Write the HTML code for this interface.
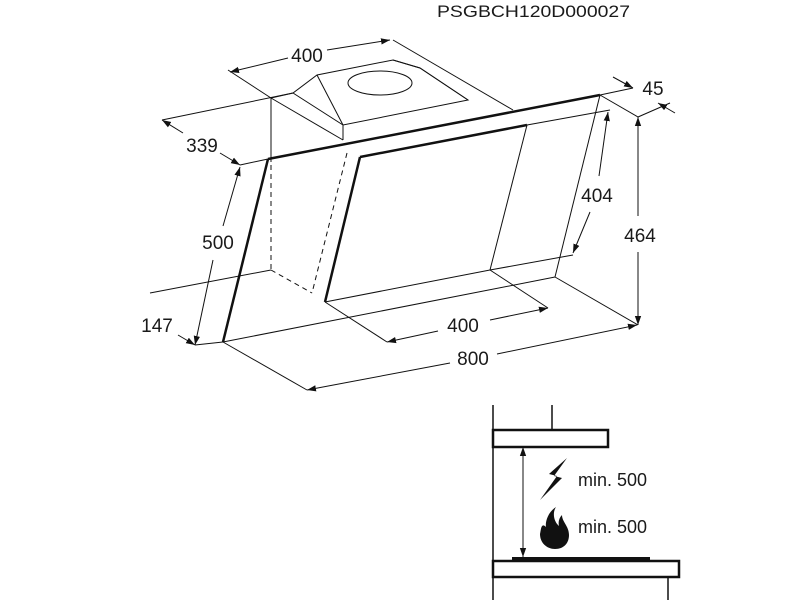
<!DOCTYPE html>
<html><head><style>
html,body{margin:0;padding:0;background:#fff;}
svg{display:block;}
text{font-family:"Liberation Sans",sans-serif;fill:#1a1a1a;}
</style></head><body>
<svg width="800" height="600" viewBox="0 0 800 600" xmlns="http://www.w3.org/2000/svg">
<defs>
<marker id="a" viewBox="0 0 10 10" refX="10" refY="5" markerWidth="9" markerHeight="9" orient="auto-start-reverse" markerUnits="userSpaceOnUse">
<path d="M0,1.5 L10,5 L0,8.5 z" fill="#111"/></marker>
</defs>
<text x="437" y="17" font-size="17" textLength="193" lengthAdjust="spacingAndGlyphs">PSGBCH120D000027</text>

<g stroke="#111" fill="none" stroke-width="1">
<line x1="271" y1="98" x2="271" y2="162"/>
<polygon points="271,98 293,93 317,75 393,60 420,68 468,100 343,125 293,93" fill="#fff"/>
<polyline points="317,75 343,125"/>
<polyline points="393,60 420,68"/>
<polyline points="420,68 468,100"/>
<line x1="271" y1="98" x2="343" y2="140"/>
<line x1="343" y1="125" x2="343" y2="140"/>
<ellipse cx="380" cy="83" rx="32" ry="12"/>
<g stroke-dasharray="5,4">
<line x1="271" y1="165" x2="271" y2="270"/>
<line x1="271" y1="270" x2="312" y2="293"/>
<line x1="347" y1="153" x2="312" y2="293"/>
</g>
<line x1="268" y1="159" x2="600" y2="95" stroke-width="2.5"/>
<line x1="268" y1="159" x2="223" y2="342" stroke-width="2.5"/>
<line x1="223" y1="342" x2="555" y2="277"/>
<line x1="600" y1="95" x2="555" y2="277"/>
<line x1="600" y1="95" x2="638" y2="117"/>
<line x1="555" y1="277" x2="638" y2="325"/>
<line x1="360" y1="157" x2="527" y2="125" stroke-width="2.5"/>
<line x1="360" y1="157" x2="325" y2="302" stroke-width="2.5"/>
<line x1="325" y1="302" x2="490" y2="270"/>
<line x1="527" y1="125" x2="490" y2="270"/>
<line x1="228" y1="70" x2="271" y2="98"/>
<line x1="393" y1="40" x2="513" y2="110"/>
<line x1="162" y1="120" x2="293" y2="93"/>
<line x1="240" y1="165" x2="268" y2="159"/>
<line x1="150" y1="293" x2="271" y2="270"/>
<line x1="195" y1="345" x2="223" y2="342"/>
<line x1="223" y1="342" x2="307" y2="390"/>
<line x1="325" y1="302" x2="387" y2="342"/>
<line x1="490" y1="270" x2="548" y2="308"/>
<line x1="490" y1="270" x2="573" y2="255"/>
<line x1="527" y1="125" x2="610" y2="110"/>
<line x1="600" y1="95" x2="633" y2="88"/>
<line x1="638" y1="117" x2="670" y2="103"/>
<line x1="230" y1="72" x2="288" y2="58" marker-start="url(#a)"/>
<line x1="327" y1="50" x2="390" y2="40" marker-end="url(#a)"/>
<line x1="162" y1="120" x2="183" y2="133" marker-start="url(#a)"/>
<line x1="220" y1="153" x2="240" y2="165" marker-end="url(#a)"/>
<line x1="613" y1="77" x2="633" y2="88" marker-end="url(#a)"/>
<line x1="675" y1="113" x2="658" y2="103" marker-end="url(#a)"/>
<line x1="240" y1="167" x2="223" y2="226" marker-start="url(#a)"/>
<line x1="213" y1="260" x2="195" y2="345" marker-end="url(#a)"/>
<line x1="178" y1="335" x2="195" y2="345" marker-end="url(#a)"/>
<line x1="608" y1="112" x2="599" y2="176" marker-start="url(#a)"/>
<line x1="590" y1="212" x2="573" y2="253" marker-end="url(#a)"/>
<line x1="638" y1="117" x2="638" y2="216" marker-start="url(#a)"/>
<line x1="638" y1="252" x2="638" y2="325" marker-end="url(#a)"/>
<line x1="387" y1="342" x2="438" y2="331" marker-start="url(#a)"/>
<line x1="490" y1="320" x2="548" y2="308" marker-end="url(#a)"/>
<line x1="307" y1="390" x2="450" y2="363" marker-start="url(#a)"/>
<line x1="497" y1="354" x2="637" y2="325" marker-end="url(#a)"/>
</g>
<g font-size="19">
<text x="307" y="62" text-anchor="middle">400</text>
<text x="202" y="152" text-anchor="middle">339</text>
<text x="653" y="95" text-anchor="middle">45</text>
<text x="218" y="249" text-anchor="middle">500</text>
<text x="157" y="332" text-anchor="middle">147</text>
<text x="597" y="202" text-anchor="middle">404</text>
<text x="640" y="242" text-anchor="middle">464</text>
<text x="463" y="332" text-anchor="middle">400</text>
<text x="473" y="365" text-anchor="middle">800</text>
</g>

<g stroke="#111" fill="none">
<line x1="493" y1="405" x2="493" y2="600" stroke-width="1.5"/>
<line x1="552" y1="405" x2="552" y2="430" stroke-width="1.5"/>
<rect x="493" y="430" width="115" height="17" fill="#fff" stroke-width="2.5"/>
<line x1="523" y1="447" x2="523" y2="557" marker-start="url(#a)" marker-end="url(#a)"/>
<rect x="493" y="561" width="186" height="16" fill="#fff" stroke-width="2.5"/>
<line x1="668" y1="577" x2="668" y2="600" stroke-width="1.5"/>
</g>
<rect x="512" y="557" width="138" height="5" fill="#111"/>
<path d="M567,458 L549,474 L557,476 L540,500 L562,478 L554,476 Z" fill="#111"/>
<path d="M556,507 C548,512 545,522 546,527 C541,522 541,530 540,534 C540,543 547,549 555,549 C564,549 569,543 569,535 C569,526 562,522 562,515 C559,518 558,522 559,526 C554,522 552,513 556,507 Z" fill="#111"/>
<g font-size="18">
<text x="578" y="486">min. 500</text>
<text x="578" y="533">min. 500</text>
</g>
</svg>
</body></html>
